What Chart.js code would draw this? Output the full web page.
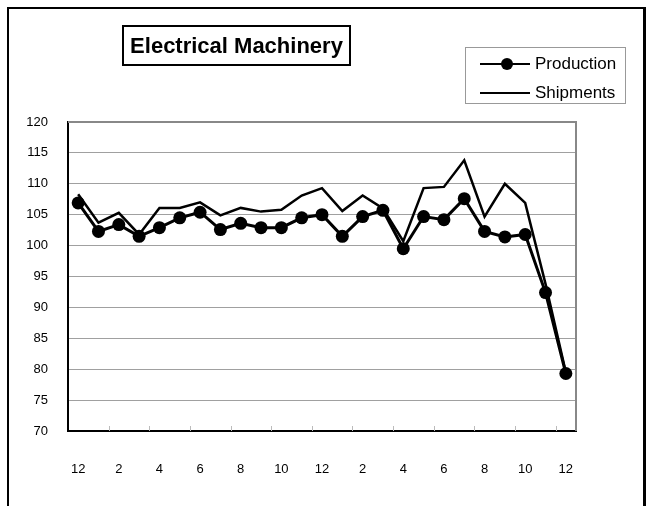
<!DOCTYPE html>
<html lang="en">
<head>
  <meta charset="UTF-8" />
  <title>Electrical Machinery</title>
  <script src="https://cdn.jsdelivr.net/npm/chart.js"></script>
  <style>
    body { margin: 0; background: #fff; font-family: "Liberation Sans", Arial, sans-serif; }
    #wrap { position: relative; width: 648px; height: 506px; overflow: hidden; }
    #frame {
      position: absolute; left: 7px; top: 7px; width: 634px; height: 520px;
      border: 2px solid #000; border-right-width: 3px;
    }
    #title {
      position: absolute; left: 122px; top: 25px; width: 225px; height: 37px;
      border: 2px solid #000; text-align: center; line-height: 37px;
      font-weight: bold; font-size: 22px; color: #000;
    }
    #legend {
      position: absolute; left: 465px; top: 47px; width: 159px; height: 55px;
      border: 1px solid #999; font-size: 17px; color: #000;
    }
    .row { position: absolute; left: 0; height: 20px; width: 159px; }
    .row .ln { position: absolute; left: 14px; top: 9px; width: 50px; height: 2px; background: #000; }
    .row .dot { position: absolute; left: 35px; top: 4px; width: 12px; height: 12px; border-radius: 50%; background: #000; }
    .row .tx { position: absolute; left: 69px; top: 0; line-height: 20px; }
    canvas { position: absolute; left: 0; top: 0; }
  </style>
</head>
<body>
  <div id="wrap">
    <div id="frame"></div>
    <canvas id="chart" width="648" height="506"></canvas>
    <div id="title">Electrical Machinery</div>
    <div id="legend">
      <div class="row" style="top:6px"><div class="ln"></div><div class="dot"></div><span class="tx">Production</span></div>
      <div class="row" style="top:35px"><div class="ln"></div><span class="tx">Shipments</span></div>
    </div>
  </div>

  <script>
    // month labels (Dec .. Dec, two years)
    const months = ['12','1','2','3','4','5','6','7','8','9','10','11','12','1','2','3','4','5','6','7','8','9','10','11','12'];
    const production = [106.9,102.3,103.4,101.5,102.9,104.5,105.4,102.6,103.6,102.9,102.9,104.5,105.0,101.5,104.7,105.7,99.5,104.7,104.2,107.6,102.3,101.4,101.8,92.4,79.3];
    const shipments  = [108.3,103.7,105.3,101.8,106.1,106.1,107.0,104.9,106.1,105.5,105.8,108.1,109.3,105.6,108.1,106.0,100.7,109.3,109.5,113.8,104.7,110.0,106.9,93.8,79.5];
    const yMin = 70;
    const yMax = 120;
    const yStep = 5;

    // gray top/right frame + small inner tick marks every 2 months
    const plotFrame = {
      id: 'plotFrame',
      afterDatasetsDraw(chart) {
        const { ctx, chartArea: a, scales } = chart;
        const x = scales.x;
        ctx.save();
        ctx.strokeStyle = '#bbb';
        ctx.lineWidth = 1;
        for (let i = 2; i < months.length; i += 2) {
          const px = Math.round((x.getPixelForTick(i - 1) + x.getPixelForTick(i)) / 2) + 0.5;
          ctx.beginPath();
          ctx.moveTo(px, a.bottom);
          ctx.lineTo(px, a.bottom - 5);
          ctx.stroke();
        }
        ctx.strokeStyle = '#888';
        ctx.lineWidth = 2;
        ctx.beginPath();
        ctx.moveTo(a.left, a.top);
        ctx.lineTo(a.right, a.top);
        ctx.lineTo(a.right, a.bottom);
        ctx.stroke();
        ctx.restore();
      }
    };

    new Chart(document.getElementById('chart'), {
      type: 'line',
      data: {
        labels: months,
        datasets: [
          {
            label: 'Production',
            data: production,
            borderColor: '#000',
            backgroundColor: '#000',
            borderWidth: 3,
            pointRadius: 6.5,
            pointBackgroundColor: '#000',
            pointBorderWidth: 0,
            tension: 0
          },
          {
            label: 'Shipments',
            data: shipments,
            borderColor: '#000',
            borderWidth: 2.5,
            pointRadius: 0,
            tension: 0
          }
        ]
      },
      options: {
        responsive: false,
        animation: false,
        layout: { padding: { left: 0, right: 72, top: 122, bottom: 25 } },
        plugins: { legend: { display: false }, tooltip: { enabled: false } },
        scales: {
          x: {
            type: 'category',
            offset: true,
            grid: { display: false },
            border: { color: '#000', width: 2 },
            ticks: {
              autoSkip: false,
              maxRotation: 0,
              padding: 23,
              color: '#000',
              font: { family: '"Liberation Sans", Arial, sans-serif', size: 13 },
              callback: (v, i) => (i % 2 === 0 ? months[i] : '')
            },
            afterFit: s => { s.height = 50; }
          },
          y: {
            min: yMin,
            max: yMax,
            grid: {
              drawTicks: false,
              color: '#a0a0a0',
              lineWidth: 1
            },
            border: { color: '#000', width: 2 },
            ticks: {
              stepSize: yStep,
              padding: 20,
              color: '#000',
              font: { family: '"Liberation Sans", Arial, sans-serif', size: 13 }
            },
            afterFit: s => { s.width = 68; }
          }
        }
      },
      plugins: [plotFrame]
    });
  </script>
</body>
</html>
